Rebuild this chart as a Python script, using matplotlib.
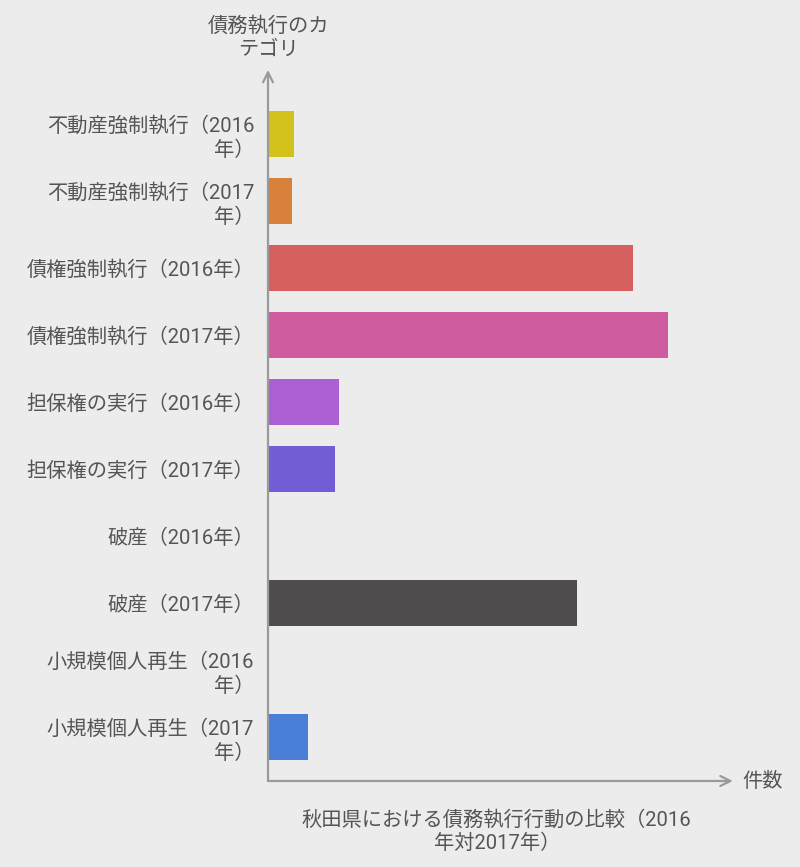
import matplotlib
matplotlib.use("Agg")
import matplotlib.pyplot as plt

plt.rcParams['font.family'] = ['Roboto', 'Noto Sans CJK JP', 'DejaVu Sans']

# 件数 (approximate)
categories = [
    "不動産強制執行（2016\n年）",
    "不動産強制執行（2017\n年）",
    "債権強制執行（2016年）",
    "債権強制執行（2017年）",
    "担保権の実行（2016年）",
    "担保権の実行（2017年）",
    "破産（2016年）",
    "破産（2017年）",
    "小規模個人再生（2016\n年）",
    "小規模個人再生（2017\n年）",
]
counts = [26, 24, 365, 400, 71, 67, 0, 309, 0, 40]
colors = ["#d4c21c", "#d8813a", "#d65f5f", "#cf5c9f", "#ad5fd4",
          "#735dd4", "#c8c8c8", "#4e4c4d", "#c8c8c8", "#4a7fd8"]

BG = "#ececec"
TXT = "#555555"
AX = "#9a9a9a"
FS = 14.6

fig = plt.figure(figsize=(8, 8.67), dpi=100, facecolor=BG)
ax = fig.add_axes([0.335, 0.0992, 0.581, 0.8202], facecolor=BG)

y = list(range(len(categories)))
ax.barh(y, counts, height=0.69, color=colors)

ax.set_ylim(9.657, -0.955)
ax.set_xlim(0, max(counts) * 1.1625)
ax.set_yticks(y)
ax.set_yticklabels(categories, fontsize=FS, color=TXT, linespacing=1.3)
ax.tick_params(axis="y", length=0, pad=10)
ax.set_xticks([])
for s in ax.spines.values():
    s.set_visible(False)

# axes drawn as arrows
arrow = dict(arrowstyle="->", color=AX, lw=1.6, mutation_scale=18, shrinkA=0, shrinkB=0)
ax.annotate("", xy=(1.0, 0), xytext=(0, 0), xycoords="axes fraction", arrowprops=arrow)
ax.annotate("", xy=(0, 1.0), xytext=(0, 0), xycoords="axes fraction", arrowprops=arrow)

fig.text(0.9275, 0.0992, "件数", ha="left", va="center", fontsize=FS, color=TXT)
fig.text(0.335, 0.957, "債務執行のカ\nテゴリ", ha="center", va="center",
         fontsize=FS, color=TXT, linespacing=1.25)
fig.text(0.621, 0.041, "秋田県における債務執行行動の比較（2016\n年対2017年）",
         ha="center", va="center", fontsize=FS, color=TXT, linespacing=1.25)

fig.savefig("out.png", dpi=100, facecolor=BG)
